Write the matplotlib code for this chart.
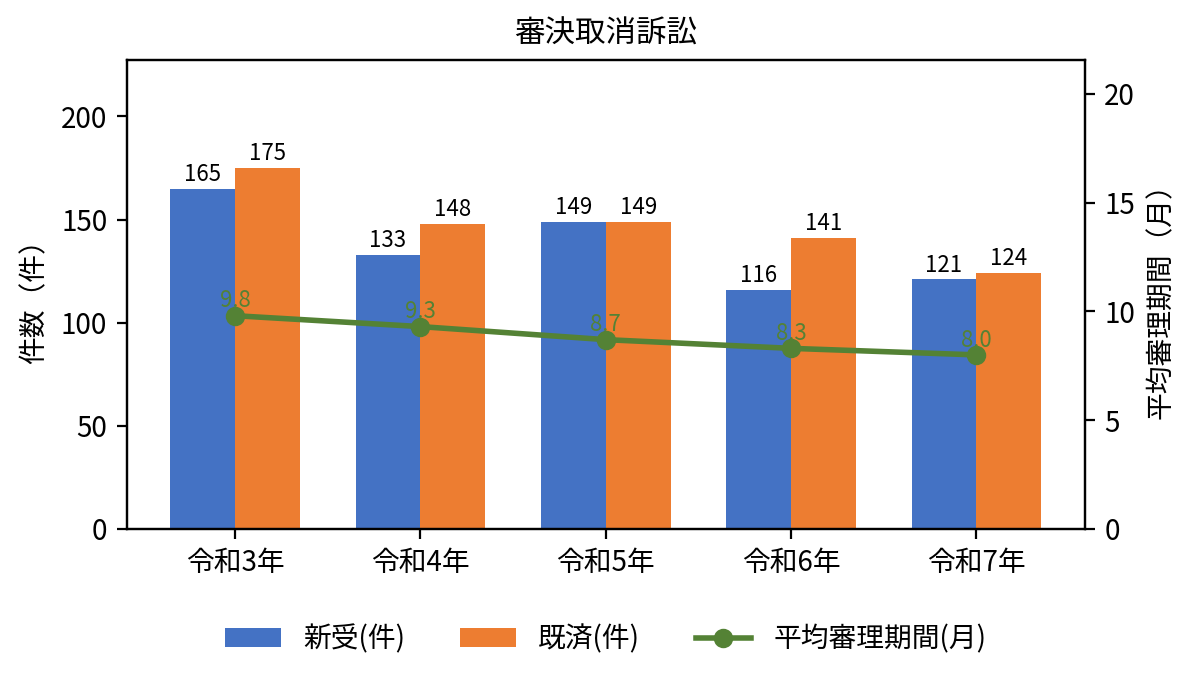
import matplotlib
matplotlib.use("Agg")
import matplotlib.pyplot as plt
import numpy as np

plt.rcParams['font.family'] = ['Noto Sans CJK JP', 'DejaVu Sans']

years = ["令和3年", "令和4年", "令和5年", "令和6年", "令和7年"]
shinju = [165, 133, 149, 116, 121]
kisai = [175, 148, 149, 141, 124]
kikan = [9.8, 9.3, 8.7, 8.3, 8.0]

blue = "#4472C4"
orange = "#ED7D31"
green = "#548235"

fig, ax = plt.subplots(figsize=(5.98, 3.435), dpi=200)
fig.subplots_adjust(left=0.106, right=0.907, top=0.913, bottom=0.230)

x = np.arange(len(years))
w = 0.35
b1 = ax.bar(x - w/2, shinju, w, color=blue, label="新受(件)")
b2 = ax.bar(x + w/2, kisai, w, color=orange, label="既済(件)")
ax.bar_label(b1, fontsize=8, padding=1)
ax.bar_label(b2, fontsize=8, padding=1)
ax.set_ylim(0, max(kisai) * 1.3)
ax.set_ylabel("件数（件）", fontsize=10)
ax.set_xticks(x)
ax.set_xticklabels(years, fontsize=10)
ax.tick_params(axis='y', labelsize=10)
ax.set_title("審決取消訴訟", fontsize=11)

ax2 = ax.twinx()
ln, = ax2.plot(x, kikan, color=green, marker='o', linewidth=2, markersize=6,
               label="平均審理期間(月)")
for xi, v in zip(x, kikan):
    ax2.annotate(f"{v:.1f}", (xi, v), textcoords="offset points", xytext=(0, 3),
                 ha='center', fontsize=8, color=green)
ax2.set_ylim(0, max(kikan) * 2.2)
ax2.set_ylabel("平均審理期間（月）", fontsize=10)
ax2.tick_params(axis='y', labelsize=10)

handles = [b1, b2, ln]
ax.legend(handles, [h.get_label() for h in handles], loc='upper center',
          bbox_to_anchor=(0.5, -0.15), ncol=3, frameon=False, fontsize=10)

fig.savefig("out.png", dpi=200)
